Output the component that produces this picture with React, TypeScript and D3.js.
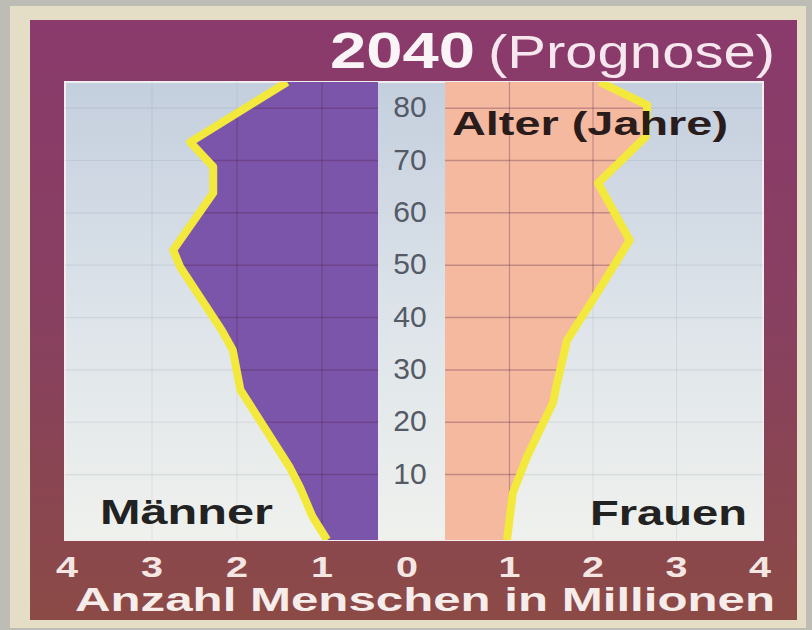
import React from "react";
import * as d3 from "d3";

// ---- data ----
const maleAges = [85, 73.5, 68.8, 63.8, 52.9, 49.7, 37.6, 33.8, 26.2, 11.4, 7.6, 1.9, -2.5];
const maleMillions = [1.41, 2.55, 2.28, 2.28, 2.75, 2.67, 2.18, 2.05, 1.96, 1.38, 1.26, 1.11, 0.94];
const femaleAges = [85, 80.6, 74.5, 65.7, 54.8, 43.4, 35.7, 27.5, 23.7, 13.4, 6.5, -2.5];
const femaleMillions = [2.08, 2.65, 2.63, 2.06, 2.44, 2.0, 1.69, 1.57, 1.52, 1.21, 1.04, 0.97];
const ageTicks = [10, 20, 30, 40, 50, 60, 70, 80];
const valueTicks = [0, 1, 2, 3, 4];
const gridValues = [1, 2, 3];
const titleYear = "2040";
const titleNote = "(Prognose)";
const ageLabel = "Alter (Jahre)";
const maleLabel = "Männer";
const femaleLabel = "Frauen";
const xAxisTitle = "Anzahl Menschen in Millionen";

// ---- layout ----
const W = 812, H = 630;
const plot = { left: 65, right: 763, top: 82, bottom: 540 };
const band = { left: 378, right: 445 };
const FONT = "'Liberation Sans', Arial, Helvetica, sans-serif";

type P = { a: number; v: number };

export default function App() {
  const y = d3.scaleLinear().domain([-2.5, 85]).range([plot.bottom, plot.top]);
  const xM = d3.scaleLinear().domain([0, 4]).range([407, 67]);
  const xF = d3.scaleLinear().domain([0, 4]).range([426, 760]);

  const male: P[] = maleAges.map((a, i) => ({ a, v: maleMillions[i] }));
  const female: P[] = femaleAges.map((a, i) => ({ a, v: femaleMillions[i] }));

  const maleArea = d3.area<P>().y((d) => y(d.a)).x0(band.left).x1((d) => xM(d.v))(male) || "";
  const femaleArea = d3.area<P>().y((d) => y(d.a)).x0(band.right).x1((d) => xF(d.v))(female) || "";
  const maleLine = d3.line<P>().x((d) => xM(d.v)).y((d) => y(d.a))(male) || "";
  const femaleLine = d3.line<P>().x((d) => xF(d.v)).y((d) => y(d.a))(female) || "";

  const grid = (stroke: string, w: number) => (
    <g>
      {ageTicks.map((a) => (
        <g key={"h" + a}>
          <line x1={plot.left} x2={band.left} y1={y(a)} y2={y(a)} stroke={stroke} strokeWidth={w} />
          <line x1={band.right} x2={plot.right} y1={y(a)} y2={y(a)} stroke={stroke} strokeWidth={w} />
        </g>
      ))}
      {gridValues.map((v) => (
        <g key={"v" + v}>
          <line x1={xM(v)} x2={xM(v)} y1={plot.top} y2={plot.bottom} stroke={stroke} strokeWidth={w * 0.8} />
          <line x1={xF(v)} x2={xF(v)} y1={plot.top} y2={plot.bottom} stroke={stroke} strokeWidth={w * 0.8} />
        </g>
      ))}
    </g>
  );

  return (
    <svg width={W} height={H} style={{ position: "absolute", left: 0, top: 0 }}>
      <defs>
        <linearGradient id="panel" x1="0" y1="0" x2="0" y2="1">
          <stop offset="0" stopColor="#8a3a6c" />
          <stop offset="0.5" stopColor="#884060" />
          <stop offset="1" stopColor="#8c4a46" />
        </linearGradient>
        <linearGradient id="plotbg" x1="0" y1="0" x2="0" y2="1">
          <stop offset="0" stopColor="#c4cfde" />
          <stop offset="0.55" stopColor="#dfe5ea" />
          <stop offset="1" stopColor="#eff1ed" />
        </linearGradient>
        <clipPath id="plotclip">
          <rect x={plot.left} y={plot.top} width={plot.right - plot.left} height={plot.bottom - plot.top} />
        </clipPath>
        <clipPath id="fillclip">
          <path d={maleArea} />
          <path d={femaleArea} />
        </clipPath>
      </defs>

      <rect x={0} y={0} width={W} height={H} fill="#bdbdb6" />
      <rect x={10} y={6} width={796} height={622} fill="#e5dec7" />
      <rect x={30} y={20} width={767} height={600} fill="url(#panel)" />
      <rect x={plot.left} y={plot.top} width={plot.right - plot.left} height={plot.bottom - plot.top}
        fill="url(#plotbg)" stroke="#f2eef0" strokeWidth={2} />

      <g clipPath="url(#plotclip)">
        {grid("rgba(120,130,150,0.16)", 1.2)}
        <path d={maleArea} fill="#7b55a9" />
        <path d={femaleArea} fill="#f5b9a0" />
        <g clipPath="url(#fillclip)">{grid("rgba(80,30,70,0.3)", 1.5)}</g>

        <path d={maleLine} fill="none" stroke="#f3e83c" strokeWidth={8} strokeLinejoin="round" />
        <path d={femaleLine} fill="none" stroke="#f3e83c" strokeWidth={8} strokeLinejoin="round" />
      </g>

      {/* age labels */}
      {ageTicks.map((a) => (
        <text key={"al" + a} x={410} y={y(a)} dy="0.3em" textAnchor="middle"
          fontFamily={FONT} fontSize={30} fill="#545a66">{a}</text>
      ))}

      {/* title */}
      <text x={330} y={68} fontFamily={FONT} fontWeight="bold" fontSize={50} fill="#fbf4f6"
        textLength={145} lengthAdjust="spacingAndGlyphs">{titleYear}</text>
      <text x={488} y={68} fontFamily={FONT} fontSize={46} fill="#f6e6ee"
        textLength={287} lengthAdjust="spacingAndGlyphs">{titleNote}</text>

      <text x={452} y={135} fontFamily={FONT} fontWeight="bold" fontSize={34} fill="#2b1c1c"
        textLength={276} lengthAdjust="spacingAndGlyphs">{ageLabel}</text>
      <text x={100} y={524} fontFamily={FONT} fontWeight="bold" fontSize={35} fill="#222"
        textLength={173} lengthAdjust="spacingAndGlyphs">{maleLabel}</text>
      <text x={590} y={525} fontFamily={FONT} fontWeight="bold" fontSize={35} fill="#222"
        textLength={157} lengthAdjust="spacingAndGlyphs">{femaleLabel}</text>

      {/* value axis */}
      {valueTicks.map((v) => (
        <text key={"m" + v} x={xM(v)} y={577} textAnchor="middle" fontFamily={FONT} fontWeight="bold"
          fontSize={30} fill="#f4e6e2" textLength={22} lengthAdjust="spacingAndGlyphs">{v}</text>
      ))}
      {valueTicks.filter((v) => v > 0).map((v) => (
        <text key={"f" + v} x={xF(v)} y={577} textAnchor="middle" fontFamily={FONT} fontWeight="bold"
          fontSize={30} fill="#f4e6e2" textLength={22} lengthAdjust="spacingAndGlyphs">{v}</text>
      ))}
      <text x={75} y={611} fontFamily={FONT} fontWeight="bold" fontSize={34} fill="#f6ecea"
        textLength={700} lengthAdjust="spacingAndGlyphs">{xAxisTitle}</text>
    </svg>
  );
}
